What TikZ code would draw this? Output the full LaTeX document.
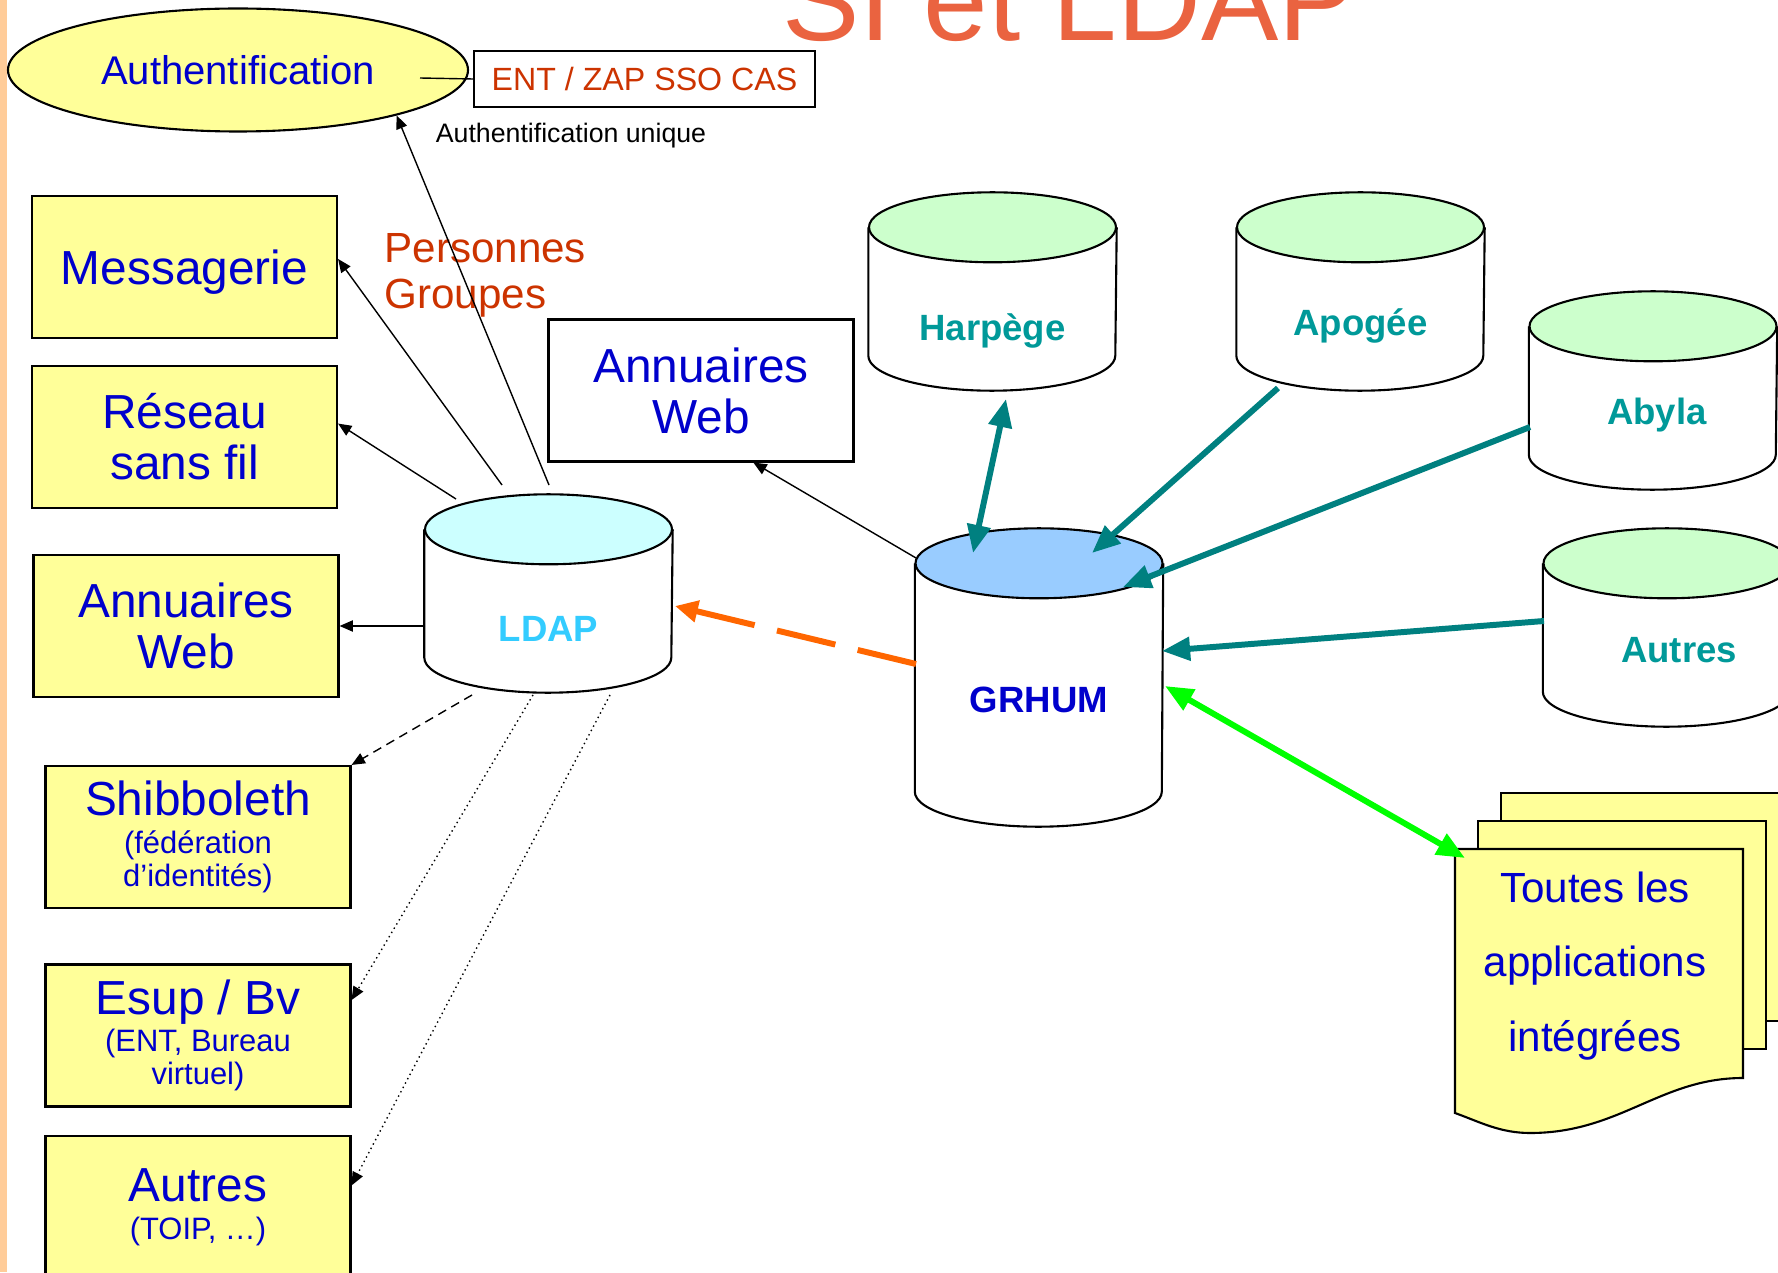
\documentclass[tikz,border=0pt]{standalone}
\usepackage{fontspec}
\setmainfont{Liberation Sans}
\usepackage{tikz}
\definecolor{sijaune}{RGB}{255,255,153}
\definecolor{sibleu}{RGB}{0,0,204}
\definecolor{sirouge}{RGB}{204,51,0}
\definecolor{sicanard}{RGB}{0,128,128}
\definecolor{sicanardtxt}{RGB}{0,153,153}
\definecolor{sititre}{RGB}{234,99,64}
\definecolor{sipeche}{RGB}{255,204,153}
\definecolor{siorange}{RGB}{255,102,0}
\definecolor{sivert}{RGB}{0,255,0}
\definecolor{topvert}{RGB}{204,255,204}
\definecolor{topcyan}{RGB}{204,255,255}
\definecolor{topbleu}{RGB}{153,204,255}
\definecolor{ldapcyan}{RGB}{51,204,255}
\usetikzlibrary{shapes.geometric}
\usetikzlibrary{arrows.meta}
\tikzset{
  appli/.style = {rectangle, draw=black, semithick, fill=sijaune, align=center,
    text=sibleu, minimum width=3.05cm, minimum height=1.42cm, inner sep=0pt,
    font=\fontsize{13.6}{14.5}\selectfont},% boite application
  appli_p/.style = {appli, font=\fontsize{8.8}{9.4}\selectfont},% boite avec sous-titre
  annu_w/.style = {appli, fill=white},
  auth_e/.style = {ellipse, draw=black, semithick, fill=sijaune, text=sibleu,
    minimum width=4.6cm, minimum height=1.23cm, inner sep=0pt,
    font=\fontsize{11.4}{13}\selectfont},
  ent_b/.style = {rectangle, draw=black, semithick, text=sirouge,
    minimum width=3.41cm, minimum height=0.56cm, inner sep=0pt,
    font=\fontsize{9.15}{10}\selectfont},
  bdd_box/.style = {rectangle, minimum width=2.47cm, inner sep=0pt},% base de donnees
  bdd_trait/.style = {draw=black, semithick},
  bdd_txt/.style = {font=\bfseries\fontsize{10.4}{12}\selectfont, text=sicanardtxt},
  fleche/.style = {->, thin, black, >={Triangle[length=3.8pt,width=3.2pt]}},
  canard/.style = {sicanard, line width=1.7pt, >={Triangle[length=8pt,width=6.5pt]}},
}
% nom, position, hauteur, couleur du dessus, style du texte, texte
\newcommand{\basedonnees}[6]{%
  \node[bdd_box, minimum height=#3] (#1) at (#2) {};
  \draw[bdd_trait, fill=white] ([yshift=-0.35cm]#1.north west) -- ([yshift=0.35cm]#1.south west)
    arc[start angle=180, end angle=360, x radius=1.235cm, y radius=0.35cm]
    -- ([yshift=-0.35cm]#1.north east);
  \draw[bdd_trait, fill=#4] ([yshift=-0.35cm]#1.north) ellipse [x radius=1.235cm, y radius=0.35cm];
  \node[#5] (#1_txt) at (#1.center) {#6};
}

\begin{document}
\begin{tikzpicture}
  \useasboundingbox (0,0) rectangle (17.78,12.72);
  \fill[sipeche] (0,0) rectangle (0.065,12.72);

  \node[anchor=base, text=sititre, font=\fontsize{33}{36}\selectfont] (titre) at (10.69,12.31) {SI et LDAP};

  % authentification
  \node[auth_e] (auth) at (2.38,12.02) {Authentification};
  \node[ent_b] (ent) at (6.445,11.93) {ENT / ZAP SSO CAS};
  \node[font=\fontsize{7.6}{9}\selectfont] (unique) at (5.71,11.36) {Authentification unique};
  \coordinate (a_ent) at (4.20,11.94);
  \path[thin] (a_ent) edge (ent.west);

  % applications
  \node[appli, text depth=0pt] (mess) at (1.845,10.05) {Messagerie};
  \node[appli] (reseau) at (1.845,8.35) {Réseau\\sans fil};
  \node[appli] (annu_g) at (1.86,6.46) {Annuaires\\Web};
  \node[appli_p] (shib) at (1.98,4.35) {{\fontsize{13.6}{14.5}\selectfont Shibboleth}\\[1.3pt](fédération\\d’identités)};
  \node[appli_p] (esup) at (1.98,2.365) {{\fontsize{13.6}{14.5}\selectfont Esup / Bv}\\[1.3pt](ENT, Bureau\\virtuel)};
  \node[appli_p] (autres_g) at (1.98,0.65) {{\fontsize{13.6}{14.5}\selectfont Autres}\\[1.3pt](TOIP, …)};
  \node[annu_w] (annu_m) at (7.01,8.815) {Annuaires\\Web};
  \node[anchor=west, align=left, text=sirouge, font=\fontsize{12}{13.1}\selectfont] (pers) at (3.72,9.97) {Personnes\\Groupes};

  % bases
  \basedonnees{ldap}{5.485,6.785}{1.97cm}{topcyan}{bdd_txt, text=ldapcyan, yshift=-0.355cm}{LDAP}
  \basedonnees{grhum}{10.39,5.945}{2.97cm}{topbleu}{bdd_txt, text=sibleu, yshift=-0.22cm}{GRHUM}
  \basedonnees{harpege}{9.925,9.805}{1.97cm}{topvert}{bdd_txt, yshift=-0.39cm}{Harpège}
  \basedonnees{apogee}{13.605,9.805}{1.97cm}{topvert}{bdd_txt, yshift=-0.34cm}{Apogée}
  \basedonnees{abyla}{16.53,8.815}{1.97cm}{topvert}{bdd_txt, yshift=-0.25cm, xshift=0.04cm}{Abyla}
  \basedonnees{autres_d}{16.67,6.445}{1.97cm}{topvert}{bdd_txt, yshift=-0.225cm, xshift=0.12cm}{Autres}

  % documents
  \draw[semithick, fill=sijaune] (15.01,2.51) rectangle (17.89,4.79);
  \draw[semithick, fill=sijaune] (14.78,2.23) rectangle (17.66,4.51);
  \draw[semithick, fill=sijaune] (14.55,4.23) -- (17.43,4.23) -- (17.43,1.94)
    .. controls (16.6,1.94) and (16.2,1.39) .. (15.30,1.39)
    .. controls (15.0,1.39) and (14.8,1.50) .. (14.55,1.59) -- cycle;
  \node[align=center, text=sibleu, font=\fontsize{12}{21.3}\selectfont] (apps) at (15.95,3.06) {Toutes les\\applications\\intégrées};

  % LDAP vers applications
  \coordinate (l_auth) at (5.49,7.87);
  \coordinate (l_mess) at (5.02,7.87);
  \coordinate (l_res) at (4.56,7.73);
  \coordinate (l_annu) at (4.25,6.46);
  \coordinate (l_shib) at (4.72,5.77);
  \coordinate (l_esup) at (5.33,5.77);
  \coordinate (l_autres) at (6.10,5.77);
  \path[fleche] (l_auth) edge (auth.344);
  \path[fleche] (l_mess) edge (mess.3);
  \path[fleche] (l_res) edge (reseau.5);
  \path[fleche] (l_annu) edge (annu_g.east);
  \path[fleche, dash pattern=on 0.09cm off 0.06cm] (l_shib) edge (shib.north east);
  \path[fleche, densely dotted] (l_esup) edge (esup.13);
  \path[fleche, densely dotted] (l_autres) edge (autres_g.8);

  % GRHUM
  \coordinate (g_annu) at (9.16,7.14);
  \path[fleche] (g_annu) edge (annu_m.306);
  \coordinate (h_bas) at (10.06,8.73);
  \coordinate (g_harp) at (9.73,7.19);
  \coordinate (ap_bas) at (12.78,8.84);
  \coordinate (g_apo) at (10.92,7.19);
  \coordinate (ab_g) at (15.30,8.45);
  \coordinate (g_aby) at (11.23,6.85);
  \coordinate (au_g) at (15.44,6.51);
  \coordinate (g_aut) at (11.62,6.21);
  \path[canard, <->] (h_bas) edge (g_harp);
  \path[canard, ->] (ap_bas) edge (g_apo);
  \path[canard, ->] (ab_g) edge (g_aby);
  \path[canard, ->] (au_g) edge (g_aut);
  \coordinate (g_ldap) at (9.16,6.08);
  \coordinate (l_grhum) at (6.75,6.66);
  \path[->, siorange, line width=1.7pt, dash pattern=on 0.6cm off 0.23cm,
    >={Triangle[length=6.5pt,width=6pt]}] (g_ldap) edge (l_grhum);
  \coordinate (g_apps) at (11.65,5.86);
  \coordinate (d_coin) at (14.65,4.14);
  \path[<->, sivert, line width=1.7pt, >={Triangle[length=8pt,width=6.5pt]}] (g_apps) edge (d_coin);
\end{tikzpicture}
\end{document}
